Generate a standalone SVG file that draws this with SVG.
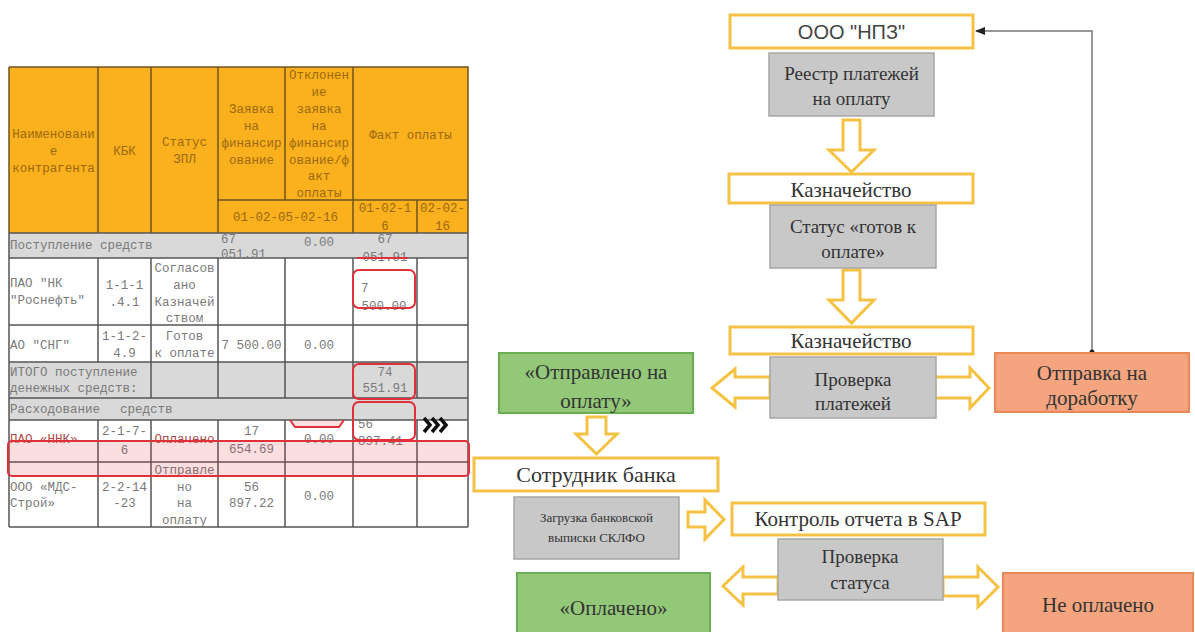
<svg xmlns="http://www.w3.org/2000/svg" width="1195" height="632" viewBox="0 0 1195 632">
<defs>
<style>
.t{font-family:"Liberation Mono","DejaVu Sans Mono",monospace;font-size:12.5px;fill:#7a7a7a}
.th{font-family:"Liberation Mono","DejaVu Sans Mono",monospace;font-size:12.5px;fill:#9a6a10}
.tr{fill:#b04848}
.c{text-anchor:middle}
.ln{stroke:#555;stroke-width:1.5;fill:none}
.hl{stroke:#6d5420;stroke-width:1.5;fill:none}
.rb{fill:none;stroke:#e0303a;stroke-width:2}
.yb{fill:#fff;stroke:#F6C244;stroke-width:3}
.gb{fill:#C8C8C8;stroke:#A6A6A6;stroke-width:1.5}
.grn{fill:#92C878;stroke:#6CAE52;stroke-width:2}
.org{fill:#F4A57F;stroke:#EA8757;stroke-width:2}
.ba{fill:#fff;stroke:#F6C244;stroke-width:3;stroke-linejoin:miter}
.f{font-family:"Liberation Serif","Times New Roman",serif;fill:#333;text-anchor:middle}
.s{font-family:"Liberation Sans",Arial,sans-serif;fill:#444;text-anchor:middle}
</style>
<marker id="ah" viewBox="0 0 10 10" refX="9" refY="5" markerWidth="7" markerHeight="7" orient="auto">
<path d="M0,1 L10,5 L0,9 Z" fill="#222"/>
</marker>
</defs>

<g id="table">
<rect x="9" y="67" width="459" height="166" fill="#FBB01D"/>
<rect x="9" y="233" width="459" height="25" fill="#D9D9D9"/>
<rect x="9" y="258" width="459" height="104" fill="#fff"/>
<rect x="9" y="362" width="459" height="58" fill="#D9D9D9"/>
<rect x="9" y="420" width="459" height="107" fill="#fff"/>
<path class="hl" d="M9,67 H468 V233 M9,67 V233 M98,67 V233 M151,67 V233 M218,67 V233 M285,67 V200 M353,67 V233 M417,200 V233 M218,200 H468"/>
<path class="ln" d="M9,233 H468 M9,258 H468 M9,325 H468 M9,362 H468 M9,398 H468 M9,420 H468 M9,462 H468 M9,527 H468 M9,233 V527 M468,233 V527 M98,258 V362 M151,258 V398 M218,258 V398 M285,258 V398 M353,258 V398 M417,258 V398 M98,420 V527 M151,420 V527 M218,420 V527 M285,420 V527 M353,420 V527 M417,420 V527"/>

<text class="th c" x="53.5" y="138">Наименовани</text>
<text class="th c" x="53.5" y="155">е</text>
<text class="th c" x="53.5" y="172">контрагента</text>
<text class="th c" x="124.5" y="155">КБК</text>
<text class="th c" x="184.5" y="146">Статус</text>
<text class="th c" x="184.5" y="163">ЗПЛ</text>
<text class="th c" x="251.5" y="113">Заявка</text>
<text class="th c" x="251.5" y="130">на</text>
<text class="th c" x="251.5" y="147">финансир</text>
<text class="th c" x="251.5" y="164">ование</text>
<text class="th c" x="319" y="79">Отклонен</text>
<text class="th c" x="319" y="96">ие</text>
<text class="th c" x="319" y="113">заявка</text>
<text class="th c" x="319" y="130">на</text>
<text class="th c" x="319" y="147">финансир</text>
<text class="th c" x="319" y="164">ование/ф</text>
<text class="th c" x="319" y="180">акт</text>
<text class="th c" x="319" y="197">оплаты</text>
<text class="th c" x="410.5" y="139">Факт оплаты</text>
<text class="th c" x="285.5" y="221">01-02-05-02-16</text>
<text class="th c" x="385" y="212">01-02-1</text>
<text class="th c" x="385" y="230">6</text>
<text class="th c" x="442.5" y="212">02-02-</text>
<text class="th c" x="442.5" y="230">16</text>

<text class="t" x="10" y="249">Поступление средств</text>
<text class="t" x="221" y="243">67</text>
<text class="t" x="221" y="258">051.91</text>
<text class="t c" x="319" y="246">0.00</text>
<text class="t c" x="385" y="243">67</text>
<text class="t c" x="385" y="261">051.91</text>
<path d="M357,258 H408" stroke="#e0303a" stroke-width="2"/>

<text class="t" x="10" y="287">ПАО "НК</text>
<text class="t" x="10" y="304">"Роснефть"</text>
<text class="t c" x="124.5" y="289">1-1-1</text>
<text class="t c" x="124.5" y="306">.4.1</text>
<text class="t c" x="184.5" y="272">Согласов</text>
<text class="t c" x="184.5" y="289">ано</text>
<text class="t c" x="184.5" y="306">Казначей</text>
<text class="t c" x="184.5" y="322">ством</text>
<text class="t" x="361" y="292">7</text>
<text class="t c" x="384" y="310">500.00</text>

<text class="t" x="10" y="349">АО "СНГ"</text>
<text class="t c" x="124.5" y="340">1-1-2-</text>
<text class="t c" x="124.5" y="357">4.9</text>
<text class="t c" x="184.5" y="340">Готов</text>
<text class="t c" x="184.5" y="357">к оплате</text>
<text class="t c" x="251.5" y="349">7 500.00</text>
<text class="t c" x="319" y="349">0.00</text>

<text class="t" x="10" y="376">ИТОГО поступление</text>
<text class="t" x="10" y="392">денежных средств:</text>
<text class="t c" x="385" y="376">74</text>
<text class="t c" x="385" y="392">551.91</text>

<text class="t" x="10" y="413">Расходование</text>
<text class="t" x="120" y="413">средств</text>

<text class="t tr" x="10" y="443">ПАО «ННК»</text>
<text class="t c" x="124.5" y="435">2-1-7-</text>
<text class="t c" x="124.5" y="454">6</text>
<text class="t tr c" x="184.5" y="443">Оплачено</text>
<text class="t c" x="251.5" y="435">17</text>
<text class="t c" x="251.5" y="453">654.69</text>
<text class="t c" x="319" y="443">0.00</text>
<text class="t" x="358" y="428">56</text>
<text class="t" x="358" y="445">897.41</text>

<text class="t c" x="184.5" y="474">Отправле</text>
<text class="t c" x="184.5" y="491">но</text>
<text class="t c" x="184.5" y="507">на</text>
<text class="t c" x="184.5" y="524">оплату</text>
<text class="t" x="10" y="491">ООО «МДС-</text>
<text class="t" x="10" y="507">Строй»</text>
<text class="t c" x="124.5" y="491">2-2-14</text>
<text class="t c" x="124.5" y="507">-23</text>
<text class="t c" x="251.5" y="491">56</text>
<text class="t c" x="251.5" y="507">897.22</text>
<text class="t c" x="319" y="500">0.00</text>

<rect x="8" y="441" width="461" height="35" rx="4" fill="rgba(225,50,60,0.16)" stroke="#e0303a" stroke-width="2"/>
<rect class="rb" x="353" y="270" width="62" height="38" rx="6"/>
<rect class="rb" x="353" y="364" width="62" height="35" rx="6"/>
<rect class="rb" x="353" y="402" width="62" height="38" rx="6"/>
<path d="M290,420 L295,427 H339 L344,420" fill="rgba(225,50,60,0.15)" stroke="#e0303a" stroke-width="2"/>
<path d="M424,418 L430,425 L424,432 M432,418 L438,425 L432,432 M440,418 L446,425 L440,432" fill="none" stroke="#111" stroke-width="3.5"/>
</g>

<g id="connectors">
<path class="ba" d="M843,120 H860 V150 H874 L851.5,172 L829,150 H843 Z"/>
<path class="ba" d="M843,270 H860 V300 H874 L851.5,323 L829,300 H843 Z"/>
<path class="ba" d="M770,377 H735 V369 L712,388 L735,407 V398 H770 Z"/>
<path class="ba" d="M935,377 H970 V368 L989,388 L970,408 V398 H935 Z"/>
<path class="ba" d="M587,417 H606 V434 H617 L596.5,454 L576,434 H587 Z"/>
<path class="ba" d="M688,512 H705 V500 L724,519.5 L705,539 V527 H688 Z"/>
<path class="ba" d="M778,577 H743 V567 L723,586 L743,605 V594 H778 Z"/>
<path class="ba" d="M943,577 H978 V567 L998,587 L978,607 V596 H943 Z"/>
<path d="M1092,352 V31 H976" fill="none" stroke="#777" stroke-width="1.5" marker-end="url(#ah)"/>
<circle cx="1092" cy="352" r="2.5" fill="#222"/>
</g>

<g id="n1"><rect class="yb" x="730" y="15" width="243" height="33"/><text class="s" x="851.5" y="39" font-size="20">ООО "НПЗ"</text></g>
<g id="n2"><rect class="gb" x="769" y="53" width="165" height="63"/><text class="f" x="851.5" y="80" font-size="19">Реестр платежей</text><text class="f" x="851.5" y="105" font-size="19">на оплату</text></g>
<g id="n3"><rect class="yb" x="729" y="174" width="244" height="29"/><text class="f" x="851" y="197" font-size="21">Казначейство</text></g>
<g id="n4"><rect class="gb" x="770" y="205" width="166" height="63"/><text class="f" x="853" y="233" font-size="19">Статус «готов к</text><text class="f" x="853" y="258" font-size="19">оплате»</text></g>
<g id="n5"><rect class="yb" x="730" y="327" width="243" height="27"/><text class="f" x="851" y="348" font-size="21">Казначейство</text></g>
<g id="n6"><rect class="gb" x="770" y="357" width="166" height="61"/><text class="f" x="853" y="386" font-size="19">Проверка</text><text class="f" x="853" y="410" font-size="19">платежей</text></g>
<g id="n7"><rect class="grn" x="499" y="353" width="194" height="60"/><text class="f" x="596" y="379" font-size="21">«Отправлено на</text><text class="f" x="596" y="408" font-size="21">оплату»</text></g>
<g id="n8"><rect class="org" x="995" y="353" width="194" height="59"/><text class="f" x="1092" y="380" font-size="21">Отправка на</text><text class="f" x="1092" y="405" font-size="21">доработку</text></g>
<g id="n9"><rect class="yb" x="474" y="458" width="244" height="33"/><text class="f" x="596" y="482" font-size="22">Сотрудник банка</text></g>
<g id="n10"><rect class="gb" x="514" y="497" width="165" height="62"/><text class="f" x="596.5" y="522" font-size="13">Загрузка банковской</text><text class="f" x="596.5" y="542" font-size="13">выписки СКЛФО</text></g>
<g id="n11"><rect class="yb" x="732" y="503" width="253" height="32"/><text class="f" x="858" y="526" font-size="21">Контроль отчета в SAP</text></g>
<g id="n12"><rect class="gb" x="778" y="539" width="165" height="61"/><text class="f" x="860" y="563" font-size="19">Проверка</text><text class="f" x="860" y="589" font-size="19">статуса</text></g>
<g id="n13"><rect class="grn" x="517" y="573" width="193" height="60"/><text class="f" x="613.5" y="615" font-size="21">«Оплачено»</text></g>
<g id="n14"><rect class="org" x="1003" y="573" width="190" height="60"/><text class="f" x="1098" y="612" font-size="21">Не оплачено</text></g>
</svg>
